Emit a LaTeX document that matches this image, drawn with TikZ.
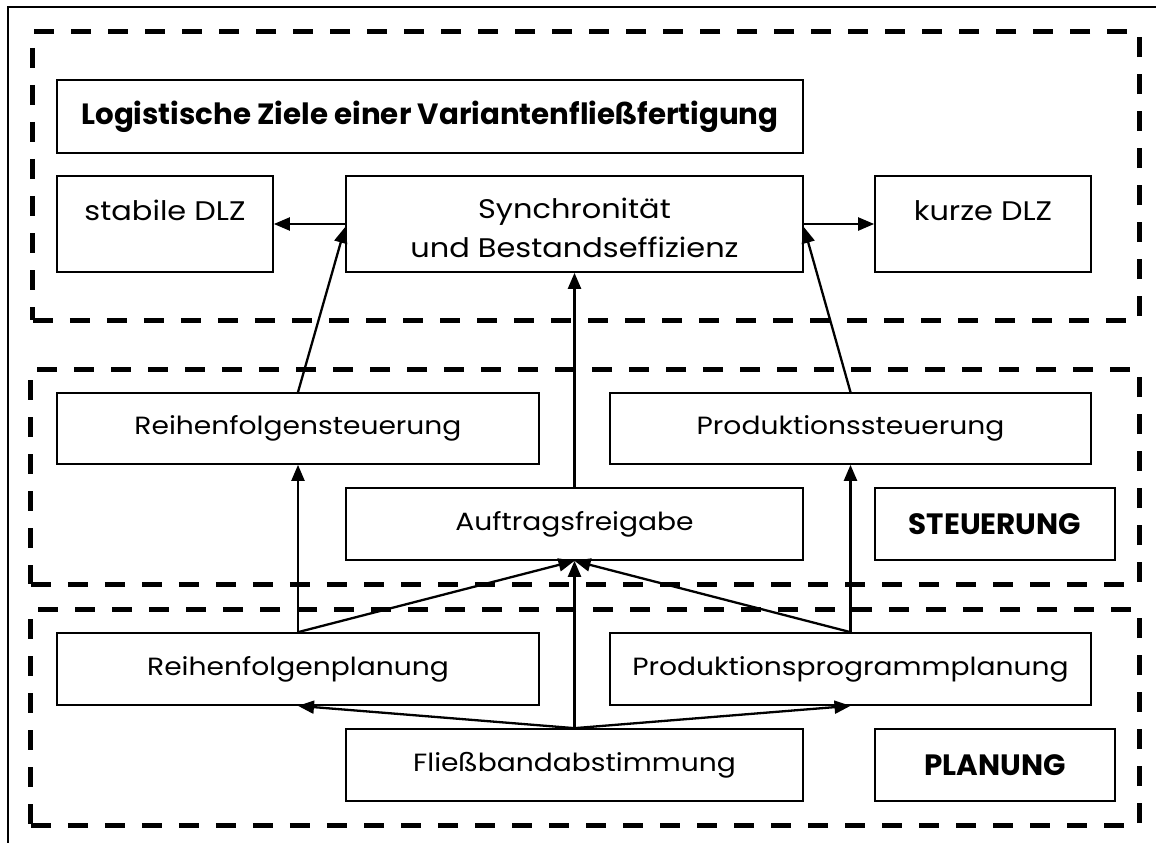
\documentclass[tikz,border=0pt]{standalone}
\usepackage{fontspec}
\setmainfont{Poppins}[FakeStretch=1.13]
\newfontfamily\headfont{Poppins}
\usetikzlibrary{arrows.meta,calc}
\begin{document}
\begin{tikzpicture}[x=1bp,y=-1bp,
  zone/.style={draw, line width=5bp, dash pattern=on 20bp off 17bp, inner sep=0pt},
  box/.style={draw, line width=1.7bp, inner sep=0pt, minimum height=72bp,
    font=\fontsize{25}{30}\selectfont},
  wide/.style={box, minimum width=482bp},
  mid/.style={box, minimum width=457bp},
  side/.style={box, minimum width=240bp, font=\fontsize{29.5}{34}\headfont\bfseries},
  goal/.style={box, minimum width=216bp, minimum height=96bp},
  txt/.style={anchor=base, inner sep=0pt, font=\fontsize{27}{32}\selectfont},
  arr/.style={line width=2.3bp, -{Triangle[length=16bp,width=13bp]}},
]
\useasboundingbox (0,0) rectangle (1156,843);

% outer frame
\draw[line width=1.5bp] (8,843) -- (8,7) -- (1156,7);

% three dashed areas
\node[zone, minimum width=1106bp, minimum height=288bp] (ziele) at (586,176) {};
\node[zone, minimum width=1108bp, minimum height=215bp] (steuer) at (585,476.5) {};
\node[zone, minimum width=1108bp, minimum height=216bp] (plan) at (585,717) {};

% goals
\node[box, minimum width=746bp, minimum height=73bp, font=\fontsize{29.4}{34}\headfont\bfseries]
  (titel) at (430,116.5) {Logistische Ziele einer Variantenfließfertigung};
\node[goal] (stab) at (165,224) {};
\node[txt] (stabT) at (165,220) {stabile DLZ};
\node[box, minimum width=457bp, minimum height=96bp] (sync) at (574.5,224) {};
\node[txt] (syncA) at (574.5,218) {Synchronität};
\node[txt] (syncB) at (574.5,257) {und Bestandseffizienz};
\node[goal] (kurz) at (983,224) {};
\node[txt] (kurzT) at (983,220) {kurze DLZ};

% control level
\node[wide, minimum height=71bp] (rst) at (298,428.5) {Reihenfolgensteuerung};
\node[wide, minimum width=481bp, minimum height=71bp] (pst) at (850.5,428.5) {Produktionssteuerung};
\node[mid] (auf) at (574.5,524) {Auftragsfreigabe};
\node[side] (steu) at (995,524) {STEUERUNG};

% planning level
\node[wide] (rpl) at (298,669) {Reihenfolgenplanung};
\node[wide, minimum width=481bp] (ppl) at (850.5,669) {Produktionsprogrammplanung};
\node[mid] (fba) at (574.5,765) {Fließbandabstimmung};
\node[side] (planT) at (995,765) {PLANUNG};

% connectors
\draw[arr] (sync.west) -- (stab.east);
\draw[arr] (sync.east) -- (kurz.west);
\draw[arr] (rst.north) -- ($(sync.west)+(0,3)$);
\draw[arr] (pst.north) -- ($(sync.east)+(0,3)$);
\draw[arr] (auf.north) -- (sync.south);
\draw[arr] (rpl.north) -- (rst.south);
\draw[arr] (ppl.north) -- (pst.south);
\draw[arr] (rpl.north) -- (auf.south);
\draw[arr] (ppl.north) -- (auf.south);
\draw[arr] (fba.north) -- (auf.south);
\draw[arr] (fba.north) -- (rpl.south);
\draw[arr] (fba.north) -- (ppl.south);
\end{tikzpicture}
\end{document}
